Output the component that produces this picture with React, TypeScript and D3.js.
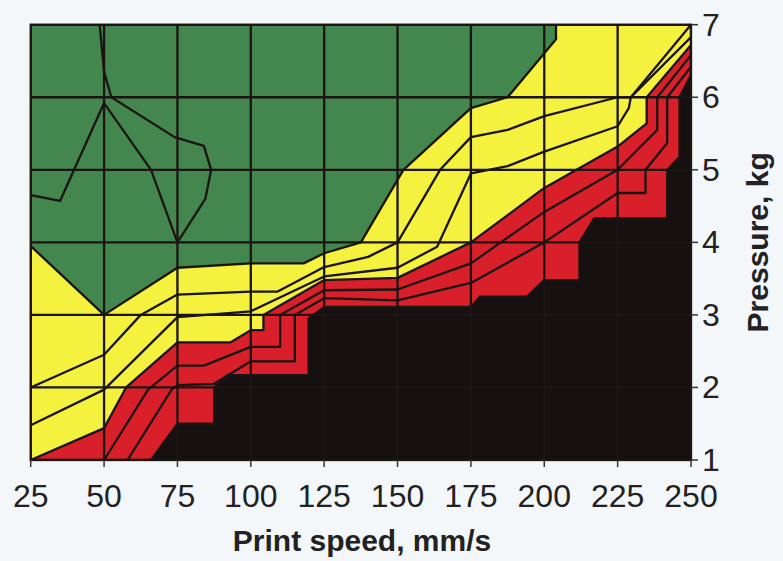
import React from 'react';
import * as d3 from 'd3';

type Pt = [number, number];

const speedTicks = [25, 50, 75, 100, 125, 150, 175, 200, 225, 250];
const pressureTicks = [1, 2, 3, 4, 5, 6, 7];

// contour lines inside the green zone, [speed, pressure]
const greenLoopA: Pt[] = [
  [48.5, 7], [50, 6.35], [52.5, 6.0], [74, 5.45], [84, 5.33], [86.5, 5.0], [84.5, 4.6], [75, 4.0],
];
const greenLoopB: Pt[] = [
  [25, 4.65], [35, 4.57], [50, 5.92], [66, 5.0], [75, 4.0],
];

// band borders
const greenYellow: Pt[] = [
  [25, 3.95], [50, 3.0], [75, 3.65], [100, 3.71], [118, 3.71], [125, 3.85], [137.5, 4.0],
  [152, 5.0], [175, 5.85], [187.5, 6.0], [204, 6.8], [204, 7],
];
const yellowA: Pt[] = [
  [25, 2.0], [50, 2.45], [62.5, 3.0], [75, 3.28], [100, 3.32], [109, 3.32], [125, 3.66],
  [140, 3.8], [150, 4.0], [164.5, 5.0], [175, 5.45], [187.5, 5.55], [200, 5.74], [225, 6.0],
  [229.5, 6.0], [250, 7.0],
];
const yellowB: Pt[] = [
  [25, 1.48], [50, 1.97], [75, 2.97], [100, 3.05], [125, 3.53], [150, 3.65], [163.5, 3.94],
  [175, 4.95], [187.5, 5.05], [200, 5.25], [225, 5.6], [228.8, 5.85], [229.5, 6.0], [250, 6.83],
];
const yellowRed: Pt[] = [
  [25, 1.0], [50, 1.44], [57.5, 2.0], [75, 2.62], [93, 2.62], [100, 2.79], [104.3, 2.79],
  [104.3, 3.0], [125, 3.48], [150, 3.51], [175, 4.0], [200, 4.75], [225, 5.32], [234.9, 5.64],
  [234.9, 6.0], [250, 6.72],
];
const redA: Pt[] = [
  [50, 1.0], [65, 1.97], [75, 2.3], [84, 2.3], [100, 2.56], [110, 2.56], [110, 3.0],
  [125, 3.34], [150, 3.35], [175, 3.71], [200, 4.42], [225, 5.0], [238.5, 5.55], [238.5, 6.0],
  [250, 6.58],
];
const redB: Pt[] = [
  [58, 1.0], [73, 1.97], [75, 2.03], [87.5, 2.05], [100, 2.36], [115, 2.36], [115, 3.0],
  [125, 3.23], [150, 3.2], [175, 3.44], [200, 4.0], [225, 4.68], [234.5, 4.68], [234.5, 5.0],
  [241.9, 5.37], [241.9, 6.0], [250, 6.42],
];
const redBlack: Pt[] = [
  [66, 1.0], [75, 1.5], [87.5, 1.5], [87.5, 2.0], [92, 2.17], [119.7, 2.17], [119.7, 2.95],
  [125, 3.11], [150, 3.11], [175, 3.11], [178, 3.25], [194, 3.25], [200, 3.48], [212, 3.48],
  [212, 4.0], [217, 4.33], [241.9, 4.33], [241.9, 5.0], [246.1, 5.18], [246.1, 6.0], [250, 6.31],
];

const W = 783;
const H = 561;

export default function App() {
  const x = d3.scaleLinear().domain([25, 250]).range([30.7, 691]);
  const y = d3.scaleLinear().domain([1, 7]).range([460, 24.7]);

  const line = d3
    .line<Pt>()
    .x((d) => x(d[0]))
    .y((d) => y(d[1]));

  // area under a border, closed along the right and bottom edges
  const below = (b: Pt[]): string =>
    line([...b, [250, 7], [250, 1], [25, 1]] as Pt[]) + 'Z';

  const [x0, x1] = x.range();
  const [y0, y1] = y.range();

  const contours = [greenLoopA, greenLoopB, greenYellow, yellowA, yellowB, yellowRed, redA, redB, redBlack];
  const ink = '#1b1412';

  return (
    <svg
      width={W}
      height={H}
      style={{ position: 'absolute', left: 0, top: 0, fontFamily: 'Liberation Sans, Arial, sans-serif' }}
    >
      <rect width={W} height={H} fill="#f3f7fa" />
      <defs>
        <clipPath id="plot">
          <rect x={x0} y={y1} width={x1 - x0} height={y0 - y1} />
        </clipPath>
      </defs>

      <g clipPath="url(#plot)">
        <rect x={x0} y={y1} width={x1 - x0} height={y0 - y1} fill="#43874f" />
        <path d={below(greenYellow)} fill="#f4f23e" />
        <path d={below(yellowRed)} fill="#d9202a" />
        <path d={below(redBlack)} fill="#171010" />

        {/* grid */}
        {speedTicks.map((t) => (
          <line key={'gx' + t} x1={x(t)} x2={x(t)} y1={y1} y2={y0} stroke={ink} strokeWidth={2.3} />
        ))}
        {pressureTicks.map((t) => (
          <line key={'gy' + t} x1={x0} x2={x1} y1={y(t)} y2={y(t)} stroke={ink} strokeWidth={2.3} />
        ))}

        {contours.map((c, i) => (
          <path key={'c' + i} d={line(c) || ''} fill="none" stroke={ink} strokeWidth={2.3} strokeLinejoin="round" />
        ))}
      </g>

      <rect x={x0} y={y1} width={x1 - x0} height={y0 - y1} fill="none" stroke={ink} strokeWidth={2.3} />

      {/* bottom axis */}
      {speedTicks.map((t) => (
        <g key={'bx' + t}>
          <line x1={x(t)} x2={x(t)} y1={y0} y2={y0 + 7} stroke="#333" strokeWidth={1.5} />
          <text x={x(t)} y={507} textAnchor="middle" fontSize={32} fill="#222">
            {t}
          </text>
        </g>
      ))}
      {/* right axis */}
      {pressureTicks.map((t) => (
        <g key={'ry' + t}>
          <line x1={x1} x2={x1 + 7} y1={y(t)} y2={y(t)} stroke="#333" strokeWidth={1.5} />
          <text x={702} y={y(t) + 11} fontSize={32} fill="#222">
            {t}
          </text>
        </g>
      ))}

      <text x={362} y={551} textAnchor="middle" fontSize={30} fontWeight="bold" fill="#222">
        Print speed, mm/s
      </text>
      <text
        transform={`translate(768, ${(y0 + y1) / 2}) rotate(-90)`}
        textAnchor="middle"
        fontSize={30}
        fontWeight="bold"
        fill="#222"
      >
        Pressure, kg
      </text>
    </svg>
  );
}
